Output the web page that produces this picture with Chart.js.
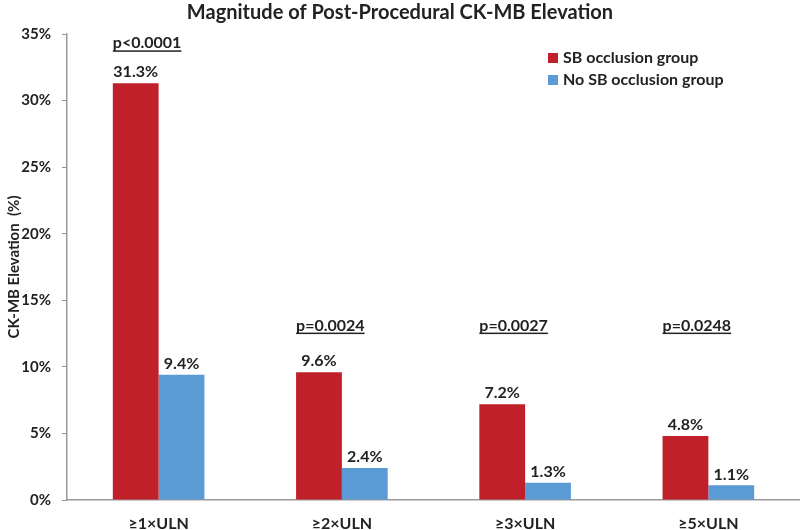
<!DOCTYPE html>
<html lang="en">
<head>
  <meta charset="UTF-8">
  <title>Magnitude of Post-Procedural CK-MB Elevation</title>
  <script src="https://cdn.jsdelivr.net/npm/chart.js"></script>
  <style>
    html, body {
      margin: 0;
      padding: 0;
      background: #fff;
    }
    #chart-container {
      width: 800px;
      height: 530px;
    }
  </style>
</head>
<body>
  <div id="chart-container">
    <canvas id="ckmbChart" width="800" height="530"></canvas>
  </div>

  <script>
    const categories = ['≥1×ULN', '≥2×ULN', '≥3×ULN', '≥5×ULN'];
    const sbOcclusion = [31.3, 9.6, 7.2, 4.8];
    const noSbOcclusion = [9.4, 2.4, 1.3, 1.1];
    const pValues = ['p<0.0001', 'p=0.0024', 'p=0.0027', 'p=0.0248'];
    const yTicks = [0, 5, 10, 15, 20, 25, 30, 35];

    const FONT = "Lato, 'Open Sans', sans-serif";
    const TEXT = '#222';

    // title, legend, value labels and p-values drawn by hand
    const annotate = {
      id: 'annotate',
      afterDatasetsDraw(chart) {
        const ctx = chart.ctx;
        const yScale = chart.scales.y;
        ctx.save();

        // value labels on top of bars
        ctx.font = 'bold 16px ' + FONT;
        ctx.fillStyle = TEXT;
        ctx.textAlign = 'center';
        ctx.textBaseline = 'bottom';
        chart.data.datasets.forEach((ds, i) => {
          chart.getDatasetMeta(i).data.forEach((bar, j) => {
            ctx.fillText(ds.data[j].toFixed(1) + '%', bar.x, bar.y - 3);
          });
        });

        // p-values, left aligned with the red bar
        const redBars = chart.getDatasetMeta(0).data;
        ctx.textAlign = 'left';
        ctx.textBaseline = 'middle';
        pValues.forEach((p, j) => {
          const bar = redBars[j];
          const x = bar.x - bar.width / 2;
          const y = yScale.getPixelForValue(Math.max(sbOcclusion[j] + 3, 13.1));
          ctx.fillText(p, x, y);
          const w = ctx.measureText(p).width;
          ctx.fillRect(x, y + 7, w, 1.5);
        });

        // title
        ctx.textAlign = 'center';
        ctx.font = 'bold 20px ' + FONT;
        ctx.fillText('Magnitude of Post-Procedural CK-MB Elevation', 400, 13);

        // legend
        ctx.textAlign = 'left';
        ctx.font = 'bold 16px ' + FONT;
        chart.data.datasets.forEach((ds, i) => {
          const y = 58 + i * 22;
          ctx.fillStyle = ds.backgroundColor;
          ctx.fillRect(548, y - 5, 10, 10);
          ctx.fillStyle = TEXT;
          ctx.fillText(ds.label, 563, y);
        });

        ctx.restore();
      }
    };

    new Chart(document.getElementById('ckmbChart'), {
      type: 'bar',
      data: {
        labels: categories,
        datasets: [
          {
            label: 'SB occlusion group',
            data: sbOcclusion,
            backgroundColor: '#C0202A',
            categoryPercentage: 0.5,
            barPercentage: 1.0
          },
          {
            label: 'No SB occlusion group',
            data: noSbOcclusion,
            backgroundColor: '#5B9BD5',
            categoryPercentage: 0.5,
            barPercentage: 1.0
          }
        ]
      },
      options: {
        responsive: false,
        animation: false,
        layout: {
          padding: { top: 34, right: 0, bottom: 0, left: 0 }
        },
        plugins: {
          legend: { display: false },
          title: { display: false },
          tooltip: { enabled: false }
        },
        scales: {
          x: {
            grid: { display: false, drawTicks: false, tickLength: 0 },
            border: { display: true, color: '#999', width: 1.5 },
            ticks: {
              color: TEXT,
              padding: 14,
              font: { family: FONT, size: 16, weight: 'bold' }
            },
            afterFit(scale) { scale.height = 30; }
          },
          y: {
            min: 0,
            max: 35,
            afterBuildTicks(scale) {
              scale.ticks = yTicks.map(v => ({ value: v }));
            },
            grid: {
              drawOnChartArea: false,
              drawTicks: true,
              tickLength: 5,
              color: '#999'
            },
            border: { display: true, color: '#999', width: 1.5 },
            ticks: {
              color: TEXT,
              padding: 11,
              font: { family: FONT, size: 15, weight: 'bold' },
              callback: v => v + '%'
            },
            title: {
              display: true,
              text: 'CK-MB Elevation  (%)',
              color: TEXT,
              padding: { top: 5, bottom: 0 },
              font: { family: FONT, size: 15, weight: 'bold' }
            },
            afterFit(scale) { scale.width = 67; }
          }
        }
      },
      plugins: [annotate]
    });
  </script>
</body>
</html>
